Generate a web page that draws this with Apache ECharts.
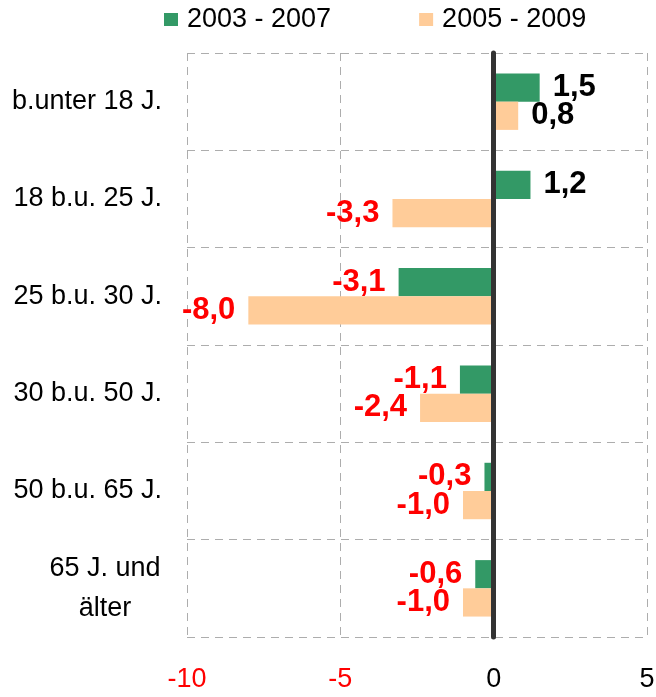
<!DOCTYPE html>
<html>
<head>
<meta charset="utf-8">
<script src="https://cdn.jsdelivr.net/npm/echarts@6/dist/echarts.min.js"></script>
<style>
  html, body { margin: 0; padding: 0; background: #ffffff; }
  #chart { width: 656px; height: 697px; }
</style>
</head>
<body>
<div id="chart"></div>
<script>
  // Altersgruppen (von oben nach unten)
  var categories = ['b.unter 18 J.', '18 b.u. 25 J.', '25 b.u. 30 J.', '30 b.u. 50 J.', '50 b.u. 65 J.', '65 J. und\nälter'];
  var seriesNames = ['2003 - 2007', '2005 - 2009'];
  var values2003 = [1.5, 1.2, -3.1, -1.1, -0.3, -0.6];
  var values2005 = [0.8, -3.3, -8.0, -2.4, -1.0, -1.0];
  var xTicks = [-10, -5, 0, 5];

  var font = "'Liberation Sans', Arial, sans-serif";

  function toItems(arr) {
    return arr.map(function (v) {
      return {
        value: v,
        label: {
          position: v < 0 ? 'left' : 'right',
          color: v < 0 ? '#ff0000' : '#000000'
        }
      };
    });
  }

  var labelStyle = {
    show: true,
    distance: 13,
    fontFamily: font,
    fontWeight: 'bold',
    fontSize: 31,
    formatter: function (p) { return p.value.toFixed(1).replace('.', ','); }
  };

  var myChart = echarts.init(document.getElementById('chart'));
  var option = {
    backgroundColor: '#ffffff',
    animation: false,
    legend: {
      data: seriesNames,
      left: 164,
      top: 6,
      padding: 0,
      width: 480,
      itemWidth: 14,
      itemHeight: 13,
      itemGap: 88,
      icon: 'rect',
      textStyle: {
        fontFamily: font,
        fontSize: 27,
        color: '#000000',
        padding: [0, 0, 0, 4]
      }
    },
    grid: { left: 187, right: 9, top: 53, bottom: 60, outerBoundsMode: 'none', containLabel: false },
    xAxis: {
      type: 'value',
      min: xTicks[0],
      max: xTicks[xTicks.length - 1],
      interval: 5,
      axisLine: { show: false },
      axisTick: { show: false },
      axisLabel: {
        margin: 29,
        fontFamily: font,
        fontSize: 27,
        color: function (v) { return v < 0 ? '#ff0000' : '#000000'; }
      },
      splitLine: { show: true, lineStyle: { color: '#adadad', type: [8, 6], width: 1 } }
    },
    yAxis: {
      type: 'category',
      inverse: true,
      data: categories,
      axisLine: { show: false },
      axisTick: { show: false },
      axisLabel: {
        margin: 25,
        fontFamily: font,
        fontSize: 27,
        color: '#000000',
        lineHeight: 40,
        formatter: function (v) {
          if (v.indexOf('\n') < 0) return v;
          return v.split('\n').map(function (s) { return '{c|' + s + '}'; }).join('\n');
        },
        rich: {
          c: { width: 114, align: 'center', fontFamily: font, fontSize: 27, lineHeight: 40, color: '#000000' }
        }
      },
      splitLine: { show: true, lineStyle: { color: '#adadad', type: [8, 6], width: 1 } }
    },
    series: [
      {
        name: seriesNames[0],
        type: 'bar',
        barGap: '0%',
        barCategoryGap: '42%',
        itemStyle: { color: '#339966' },
        label: labelStyle,
        data: toItems(values2003),
        markLine: {
          silent: true,
          symbol: 'none',
          label: { show: false },
          lineStyle: { color: '#333333', width: 5, type: 'solid', cap: 'round' },
          data: [{ xAxis: 0 }]
        }
      },
      {
        name: seriesNames[1],
        type: 'bar',
        itemStyle: { color: '#ffcc99' },
        label: labelStyle,
        data: toItems(values2005)
      }
    ]
  };
  myChart.setOption(option);
</script>
</body>
</html>
